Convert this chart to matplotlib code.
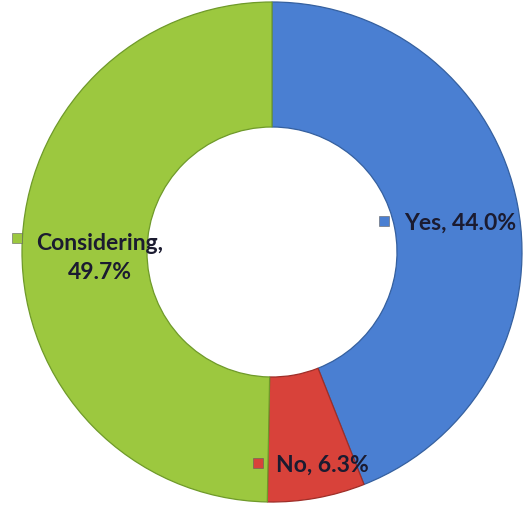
import matplotlib.pyplot as plt
from matplotlib.patches import Rectangle

# survey answers, clockwise from 12 o'clock
labels = ['Yes', 'No', 'Considering']
shares = [44.0, 6.3, 49.7]
colors = ['#4a7fd2', '#d8423a', '#9cc83f']
edges = ['#35609f', '#9e2e28', '#6f9a2a']

fig = plt.figure(figsize=(5.23, 5.11), dpi=100)
ax = fig.add_axes([0, 0, 1, 1])

cx, cy, r = 272, 252, 250  # pixel centre and radius

wedges, _ = ax.pie(shares, colors=colors, startangle=90, counterclock=False,
                   radius=1.0, wedgeprops=dict(width=0.5, linewidth=0.9))
for w, e in zip(wedges, edges):
    w.set_edgecolor(e)

# pie() resets the limits, so set them afterwards
ax.set_xlim(-cx / r, (523 - cx) / r)
ax.set_ylim(-(511 - cy) / r, cy / r)
ax.set_aspect('equal')
ax.axis('off')


def px(x, y):
    return (x - cx) / r, (cy - y) / r


font = dict(family=['Lato', 'DejaVu Sans'], fontweight='bold', fontsize=16.5,
            color='#1b1b30')

# data labels with a small colour key in front of each
label_pos = [(404, 223, 'left'), (276, 465, 'left'), (100, 258, 'center')]
key_pos = [(384, 221), (258, 463), (17, 238)]
for lab, val, col, (tx, ty, ha), (kx, ky) in zip(labels, shares, colors,
                                                  label_pos, key_pos):
    if lab == 'Considering':
        txt = f'{lab},\n{val:.1f}%'
    else:
        txt = f'{lab}, {val:.1f}%'
    x, y = px(tx, ty)
    ax.text(x, y, txt, ha=ha, va='center', linespacing=1.5, **font)
    kx, ky = px(kx, ky)
    s = 10 / r
    ax.add_patch(Rectangle((kx - s / 2, ky - s / 2), s, s, facecolor=col,
                           edgecolor='#606060', linewidth=0.4, zorder=5))

fig.savefig('out.png', dpi=100)
